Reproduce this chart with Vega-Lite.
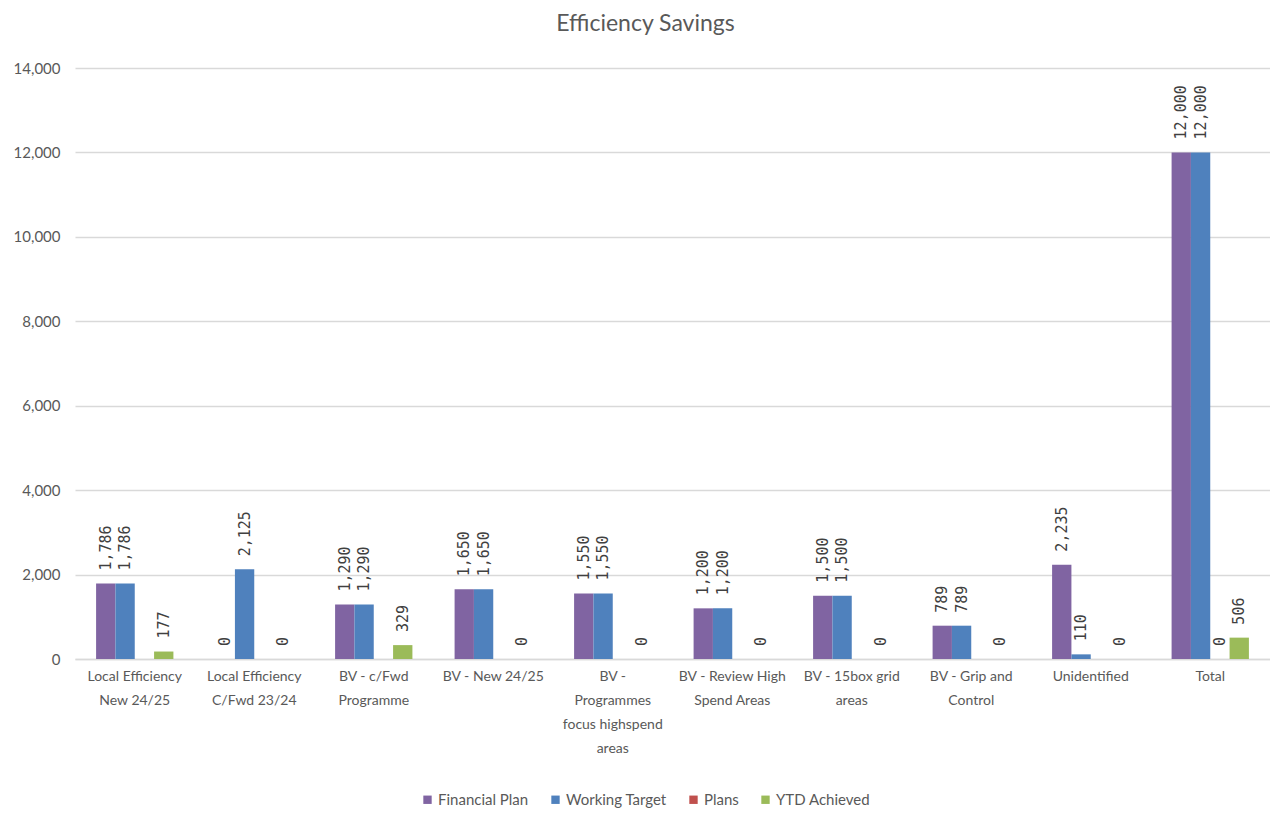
{
  "$schema": "https://vega.github.io/schema/vega-lite/v6.json",
  "width": 1195,
  "height": 591,
  "autosize": {"type": "none"},
  "padding": {"left": 75, "top": 68, "right": 0, "bottom": 155},
  "background": "white",
  "title": {"text": "Efficiency Savings", "fontSize": 23, "font": "Lato", "fontWeight": "normal", "color": "#595959", "offset": 25, "dx": -27},
  "config": {"view": {"stroke": null}},
  "data": {"values": [
    {"category": "Local Efficiency New 24/25", "series": "Financial Plan", "value": 1786},
    {"category": "Local Efficiency New 24/25", "series": "Working Target", "value": 1786},
    {"category": "Local Efficiency New 24/25", "series": "Plans", "value": null},
    {"category": "Local Efficiency New 24/25", "series": "YTD Achieved", "value": 177},
    {"category": "Local Efficiency C/Fwd 23/24", "series": "Financial Plan", "value": 0},
    {"category": "Local Efficiency C/Fwd 23/24", "series": "Working Target", "value": 2125},
    {"category": "Local Efficiency C/Fwd 23/24", "series": "Plans", "value": null},
    {"category": "Local Efficiency C/Fwd 23/24", "series": "YTD Achieved", "value": 0},
    {"category": "BV - c/Fwd Programme", "series": "Financial Plan", "value": 1290},
    {"category": "BV - c/Fwd Programme", "series": "Working Target", "value": 1290},
    {"category": "BV - c/Fwd Programme", "series": "Plans", "value": null},
    {"category": "BV - c/Fwd Programme", "series": "YTD Achieved", "value": 329},
    {"category": "BV - New 24/25", "series": "Financial Plan", "value": 1650},
    {"category": "BV - New 24/25", "series": "Working Target", "value": 1650},
    {"category": "BV - New 24/25", "series": "Plans", "value": null},
    {"category": "BV - New 24/25", "series": "YTD Achieved", "value": 0},
    {"category": "BV - Programmes focus highspend areas", "series": "Financial Plan", "value": 1550},
    {"category": "BV - Programmes focus highspend areas", "series": "Working Target", "value": 1550},
    {"category": "BV - Programmes focus highspend areas", "series": "Plans", "value": null},
    {"category": "BV - Programmes focus highspend areas", "series": "YTD Achieved", "value": 0},
    {"category": "BV - Review High Spend Areas", "series": "Financial Plan", "value": 1200},
    {"category": "BV - Review High Spend Areas", "series": "Working Target", "value": 1200},
    {"category": "BV - Review High Spend Areas", "series": "Plans", "value": null},
    {"category": "BV - Review High Spend Areas", "series": "YTD Achieved", "value": 0},
    {"category": "BV - 15box grid areas", "series": "Financial Plan", "value": 1500},
    {"category": "BV - 15box grid areas", "series": "Working Target", "value": 1500},
    {"category": "BV - 15box grid areas", "series": "Plans", "value": null},
    {"category": "BV - 15box grid areas", "series": "YTD Achieved", "value": 0},
    {"category": "BV - Grip and Control", "series": "Financial Plan", "value": 789},
    {"category": "BV - Grip and Control", "series": "Working Target", "value": 789},
    {"category": "BV - Grip and Control", "series": "Plans", "value": null},
    {"category": "BV - Grip and Control", "series": "YTD Achieved", "value": 0},
    {"category": "Unidentified", "series": "Financial Plan", "value": 2235},
    {"category": "Unidentified", "series": "Working Target", "value": 110},
    {"category": "Unidentified", "series": "Plans", "value": null},
    {"category": "Unidentified", "series": "YTD Achieved", "value": 0},
    {"category": "Total", "series": "Financial Plan", "value": 12000},
    {"category": "Total", "series": "Working Target", "value": 12000},
    {"category": "Total", "series": "Plans", "value": 0},
    {"category": "Total", "series": "YTD Achieved", "value": 506}
  ]},
  "encoding": {
    "x": {
      "field": "category", "type": "nominal", "sort": null,
      "scale": {"paddingInner": 0.353, "paddingOuter": 0.1765},
      "axis": {
        "title": null, "ticks": false, "labelAngle": 0, "domainColor": "#d9d9d9", "domainWidth": 1.5,
        "labelFont": "Lato", "labelFontSize": 14, "labelColor": "#595959", "labelLineHeight": 24,
        "labelPadding": 10, "labelBaseline": "top", "labelLimit": 300,
        "labelExpr": "datum.label == 'Local Efficiency New 24/25' ? ['Local Efficiency', 'New 24/25'] : datum.label == 'Local Efficiency C/Fwd 23/24' ? ['Local Efficiency', 'C/Fwd 23/24'] : datum.label == 'BV - c/Fwd Programme' ? ['BV - c/Fwd', 'Programme'] : datum.label == 'BV - Programmes focus highspend areas' ? ['BV -', 'Programmes', 'focus highspend', 'areas'] : datum.label == 'BV - Review High Spend Areas' ? ['BV - Review High', 'Spend Areas'] : datum.label == 'BV - 15box grid areas' ? ['BV - 15box grid', 'areas'] : datum.label == 'BV - Grip and Control' ? ['BV - Grip and', 'Control'] : datum.label"
      }
    },
    "xOffset": {"field": "series", "type": "nominal", "sort": null, "scale": {"domain": ["Financial Plan", "Working Target", "Plans", "YTD Achieved"], "paddingInner": 0, "paddingOuter": 0}},
    "y": {
      "field": "value", "type": "quantitative",
      "scale": {"domain": [0, 14000], "nice": false},
      "axis": {
        "title": null, "values": [0, 2000, 4000, 6000, 8000, 10000, 12000, 14000], "format": ",.0f",
        "ticks": false, "domain": false, "gridColor": "#d9d9d9", "gridWidth": 1.5,
        "labelFont": "Lato", "labelFontSize": 15, "labelColor": "#595959", "labelPadding": 15
      }
    }
  },
  "layer": [
    {
      "mark": {"type": "bar"},
      "encoding": {
        "color": {
          "field": "series", "type": "nominal",
          "scale": {"domain": ["Financial Plan", "Working Target", "Plans", "YTD Achieved"], "range": ["#8064A2", "#4F81BD", "#C0504D", "#9BBB59"]},
          "legend": {
            "title": null, "orient": "none", "legendX": 345, "legendY": 724, "direction": "horizontal",
            "symbolType": "square", "symbolSize": 70, "symbolStrokeWidth": 0, "labelFont": "Lato",
            "labelFontSize": 15, "labelColor": "#595959", "columnPadding": 19, "labelOffset": 3, "padding": 0
          }
        }
      }
    },
    {
      "transform": [{"filter": "datum.value != null"}],
      "mark": {"type": "text", "angle": 270, "align": "left", "baseline": "middle", "dx": 13, "font": "DejaVu Sans Mono", "fontSize": 15, "color": "#404040"},
      "encoding": {"text": {"field": "value", "type": "quantitative", "format": ",.0f"}}
    }
  ]
}
